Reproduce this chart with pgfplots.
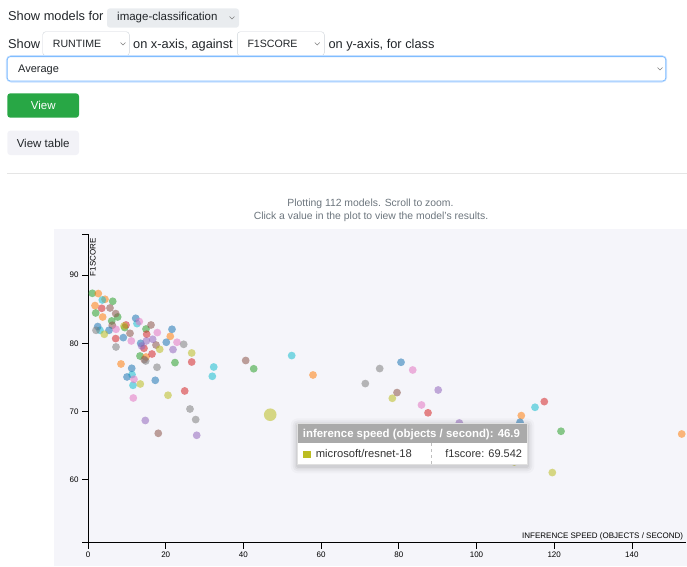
\documentclass[border=0pt]{standalone}
\usepackage{pgfplots}
\pgfplotsset{compat=1.18}
\usepackage{fontspec}
\setmainfont{Liberation Sans}

\definecolor{cblue}{HTML}{1F77B4}
\definecolor{corange}{HTML}{FF7F0E}
\definecolor{cgreen}{HTML}{2CA02C}
\definecolor{cred}{HTML}{D62728}
\definecolor{cpurple}{HTML}{9467BD}
\definecolor{cbrown}{HTML}{8C564B}
\definecolor{cpink}{HTML}{E377C2}
\definecolor{cgrey}{HTML}{7F7F7F}
\definecolor{colive}{HTML}{BCBD22}
\definecolor{ccyan}{HTML}{17BECF}
\definecolor{txt}{HTML}{212529}
\definecolor{muted}{HTML}{6C757D}
\definecolor{selgrey}{HTML}{E9ECEF}
\definecolor{bord}{HTML}{CED4DA}
\definecolor{focus}{HTML}{80BDFF}
\definecolor{glow}{HTML}{C7E0FF}
\definecolor{btngreen}{HTML}{28A745}
\definecolor{btnlight}{HTML}{F2F2F7}
\definecolor{plotbg}{HTML}{F5F5FA}
\definecolor{tiphead}{HTML}{AAAAAA}

\newcommand{\fs}[1]{\fontsize{#1}{#1}\selectfont}
% soft dot for one colour
\pgfplotsset{dot/.style={mark options={draw opacity=0, fill=#1, fill opacity=0.55}}}

\begin{document}
\begin{tikzpicture}[x=1pt,y=-1pt]
\useasboundingbox (0,0) rectangle (687,566);

% controls
\node[anchor=base west, inner sep=0, font=\fs{12.8}, text=txt] at (8,20.7) {Show models for};
\fill[selgrey, rounded corners=3] (107,8.3) rectangle (239,27.7);
\node[anchor=base west, inner sep=0, font=\fs{11.5}, text=txt] at (117,20.3) {image-classification};
\draw[gray, line width=0.5] (229.5,16.5) -- (232,19) -- (234.5,16.5);

\node[anchor=base west, inner sep=0, font=\fs{12.8}, text=txt] at (8,48.3) {Show};
\draw[bord, fill=white, rounded corners=3] (42.7,31.7) rectangle (129.3,55.7);
\node[anchor=base west, inner sep=0, font=\fs{10.6}, text=txt] at (52.7,47.6) {RUNTIME};
\draw[gray, line width=0.5] (120.5,42.5) -- (123,45) -- (125.5,42.5);
\node[anchor=base west, inner sep=0, font=\fs{12.8}, text=txt] at (133,48.3) {on x-axis, against};
\draw[bord, fill=white, rounded corners=3] (237.3,31.7) rectangle (324.3,55.7);
\node[anchor=base west, inner sep=0, font=\fs{10.6}, text=txt] at (247.3,47.6) {F1SCORE};
\draw[gray, line width=0.5] (314.8,42.5) -- (317.3,45) -- (319.8,42.5);
\node[anchor=base west, inner sep=0, font=\fs{12.8}, text=txt] at (328.3,48.3) {on y-axis, for class};

\draw[glow, line width=3, rounded corners=4] (7.3,56.6) rectangle (665.7,81);
\draw[focus, fill=white, line width=0.8, rounded corners=3] (7.3,56.6) rectangle (665.7,81);
\node[anchor=base west, inner sep=0, font=\fs{11}, text=txt] at (18,72.3) {Average};
\draw[gray, line width=0.5] (657.5,67.5) -- (660,70) -- (662.5,67.5);

\fill[btngreen, rounded corners=3] (7.3,93.3) rectangle (79,117.7);
\node[anchor=base, inner sep=0, font=\fs{11.5}, text=white] at (43.2,109.7) {View};
\fill[btnlight, rounded corners=3] (7.3,130.7) rectangle (79,155);
\node[anchor=base, inner sep=0, font=\fs{11.5}, text=txt] at (43.2,147.2) {View table};

\draw[black!10, line width=1.2] (7.3,173.5) -- (687,173.5);

\node[anchor=base, inner sep=0, font=\fs{10.4}, text=muted] at (370.5,206.8) {Plotting 112 models. Scroll to zoom.};
\node[anchor=base, inner sep=0, font=\fs{10.4}, text=muted] at (371,219) {Click a value in the plot to view the model's results.};

% plot area
\fill[plotbg] (54,228.5) rectangle (687,566);

\begin{axis}[
  at={(88pt,-542.7pt)}, anchor=south west,
  scale only axis, width=598.3pt, height=308.7pt,
  xmin=0, xmax=154, ymin=50.8, ymax=96,
  axis x line=bottom, axis y line=left,
  every outer x axis line/.append style={-},
  every outer y axis line/.append style={-},
  axis line style={-, black, line width=0.8pt},
  tick align=outside, major tick length=6pt,
  tick style={black, line width=0.8pt},
  xtick={0,20,...,140}, ytick={60,70,80,90},
  extra y ticks={50.8,96}, extra y tick labels={,},
  extra y tick style={grid=none},
  ticklabel style={font=\fs{8}},
  /pgf/number format/assume math mode=true,
  clip=false,
  every axis plot/.append style={only marks, mark=*, mark size=3.9pt},
]
\addplot[dot=cgreen] coordinates {
(1.11,87.32) (6.36,86.15) (1.98,84.44) (7.64,83.85) (6.10,83.27) (9.45,82.30)
(14.93,82.09) (13.38,78.14) (22.39,77.17) (42.65,76.27) (121.75,67.12)};
\addplot[dot=corange] coordinates {
(2.65,87.28) (4.38,86.44) (1.80,85.52) (3.78,83.85) (21.18,81.02) (14.93,77.99)
(8.49,76.97) (57.92,75.36) (111.53,69.41) (152.82,66.72)};
\addplot[dot=ccyan] coordinates {
(3.68,86.34) (3.09,81.90) (12.61,82.88) (11.33,75.42) (11.58,73.85) (32.36,76.53)
(32.00,75.17) (52.43,78.20) (115.06,70.63)};
\addplot[dot=cred] coordinates {
(3.53,85.12) (9.78,82.68) (7.13,80.69) (15.11,81.32) (14.41,79.27) (16.47,78.43)
(26.69,77.26) (24.89,73.02) (87.52,69.82) (117.45,71.46)};
\addplot[dot=cbrown] coordinates {
(5.66,85.17) (7.13,84.35) (6.25,82.64) (16.22,82.68) (10.81,81.46) (17.50,79.75)
(14.49,77.61) (40.59,77.48) (18.09,66.82) (79.54,72.78)};
\addplot[dot=cblue] coordinates {
(2.50,82.45) (5.41,81.90) (12.28,83.66) (9.09,80.83) (21.62,82.05) (20.15,80.15)
(13.56,80.00) (11.25,76.34) (10.04,75.07) (17.32,74.58) (80.57,77.22) (111.20,68.43)};
\addplot[dot=cpink] coordinates {
(7.21,82.05) (13.20,83.18) (11.15,80.34) (17.84,81.57) (22.91,80.15) (11.84,74.73)
(11.66,71.99) (83.58,76.09) (85.84,70.97)};
\addplot[dot=cpurple] coordinates {
(16.65,80.59) (15.01,80.34) (13.82,79.60) (21.88,79.08) (14.75,68.70) (27.98,66.53)
(90.14,73.16) (95.57,68.33)};
\addplot[dot=cgrey] coordinates {
(2.06,81.90) (7.21,79.46) (24.63,79.85) (17.76,76.49) (14.85,77.41) (26.25,70.38)
(27.72,68.83) (71.38,74.10) (75.08,76.30)};
\addplot[dot=colive] coordinates {
(4.20,81.32) (9.27,82.53) (18.46,79.12) (26.69,78.58) (13.46,74.04) (20.59,72.39)
(78.33,71.95) (109.73,62.62) (119.51,61.07)};
% hovered model
\addplot[dot=colive, mark size=6.3pt] coordinates {(46.9,69.542)};
\end{axis}

% axis titles
\node[rotate=90, anchor=base east, inner sep=0, font=\fs{8}] at (95.7,238.3) {F1SCORE};
\node[anchor=base east, inner sep=0, font=\fs{8}] at (683.3,538.8) {INFERENCE SPEED (OBJECTS / SECOND)};

% tooltip
\foreach \s/\o in {7/0.025, 5/0.035, 3/0.045, 1.5/0.05}
  \fill[black, opacity=\o, rounded corners=\s] (297.7-\s,423.3-\s+2) rectangle (527.3+\s,464.3+\s+2);
\fill[white] (297.7,443.3) rectangle (527.3,464.3);
\fill[tiphead] (297.7,423.3) rectangle (527.3,443.3);
\draw[black!12, line width=0.6] (297.7,423.3) rectangle (527.3,464.3);
\node[anchor=base west, inner sep=0, font=\bfseries\fs{11.4}, text=white] at (302.7,437.6) {inference speed (objects / second): 46.9};
\fill[colive] (303.3,450.7) rectangle (310.7,457.7);
\node[anchor=base west, inner sep=0, font=\fs{11.2}, text=black!80] at (315.7,457.7) {microsoft/resnet-18};
\draw[black!25, dashed, line width=0.5] (431.3,443.3) -- (431.3,464.3);
\node[anchor=base east, inner sep=0, font=\fs{11}, text=black!80] at (522.3,457.7) {f1score: 69.542};
\end{tikzpicture}
\end{document}
